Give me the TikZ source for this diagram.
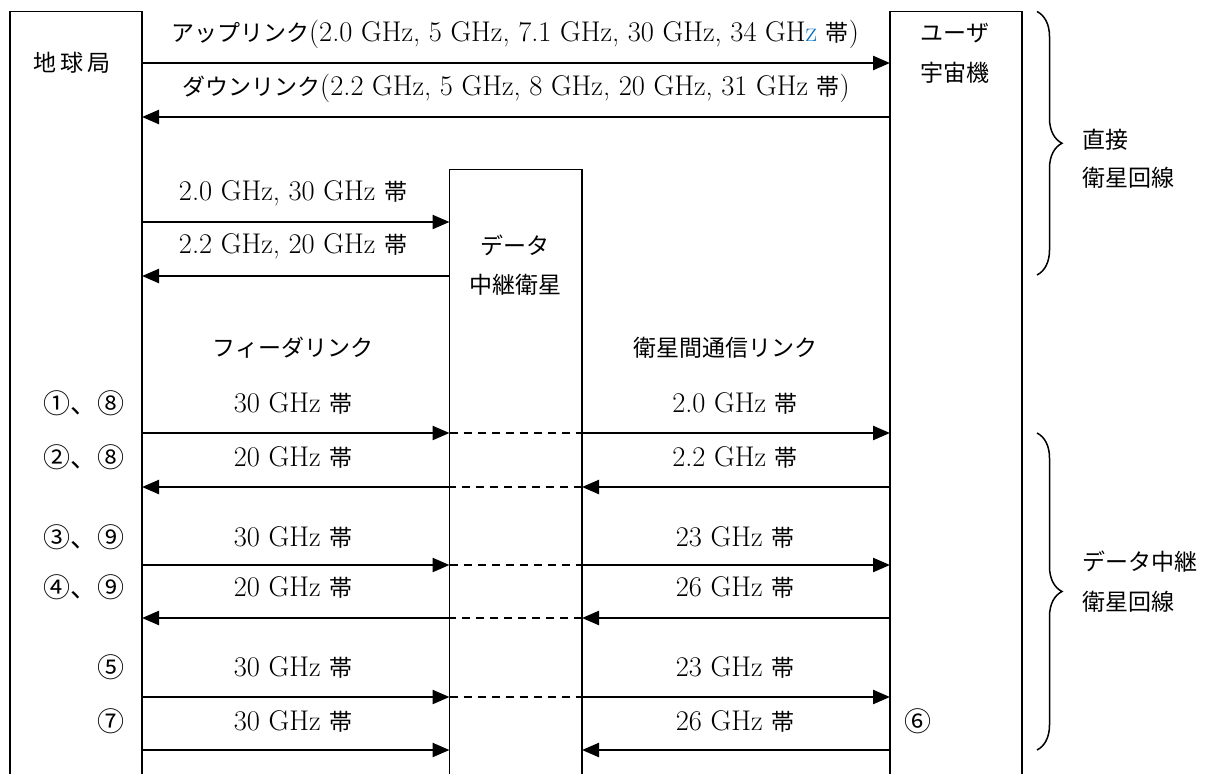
\documentclass[tikz,border=0pt]{standalone}
\usepackage{fontspec}
\newfontfamily\jpfont{Noto Sans CJK JP}
\newcommand{\jtxt}[1]{{\jpfont\fontsize{23}{27}\selectfont #1}}
\newcommand{\jcirc}[1]{{\jpfont\fontsize{27}{30}\selectfont #1}}
\usetikzlibrary{arrows.meta,decorations.pathreplacing}
\definecolor{zblue}{RGB}{0,112,192}
\tikzset{
  boxline/.style={line width=1.6pt},
  lnk/.style={line width=2.4pt,-{Triangle[length=17pt,width=14pt]}},
  dsh/.style={line width=1.6pt,dash pattern=on 8pt off 6pt},
  lbl/.style={inner sep=0pt,font=\fontsize{28.5}{32}\selectfont},
  brc/.style={line width=1.5pt,decorate,decoration={brace,amplitude=25pt}},
}
\begin{document}
\begin{tikzpicture}[x=1pt,y=-1pt]
\useasboundingbox (0,0) rectangle (1213,774);
\fill[white] (0,0) rectangle (1213,774);
% boxes (open at the bottom)
\draw[boxline] (10,774) -- (10,11.5) -- (142,11.5) -- (142,774);
\draw[boxline] (449.5,774) -- (449.5,169.5) -- (582,169.5) -- (582,774);
\draw[boxline] (890,774) -- (890,11.5) -- (1022,11.5) -- (1022,774);
% box labels
\node[lbl] (gs) at (72,63) {\jtxt{地\,球\,局}};
\node[lbl] (us1) at (955,33) {\jtxt{ユーザ}};
\node[lbl] (us2) at (955,73) {\jtxt{宇宙機}};
\node[lbl] (dr1) at (515,245) {\jtxt{データ}};
\node[lbl] (dr2) at (515,285) {\jtxt{中継衛星}};
% coordinates
\coordinate (g1) at (142,63);  \coordinate (u1) at (890,63);
\coordinate (g2) at (142,117); \coordinate (u2) at (890,117);
\coordinate (g3) at (142,222); \coordinate (r3) at (449.5,222);
\coordinate (g4) at (142,276); \coordinate (r4) at (449.5,276);
\foreach \n/\yy in {A/433,B/487,C/565,D/618,E/697,F/750}{
  \coordinate (g\n) at (142,\yy);
  \coordinate (rl\n) at (449.5,\yy);
  \coordinate (rr\n) at (582,\yy);
  \coordinate (u\n) at (890,\yy);
}
% direct links
\draw[lnk] (g1) -- (u1);
\draw[lnk] (u2) -- (g2);
\node[lbl] (t1) at (515,34) {\jtxt{アップリンク}(2.0 GHz, 5 GHz, 7.1 GHz, 30 GHz, 34 GH\textcolor{zblue}{z} \jtxt{帯})};
\node[lbl] (t2) at (516,88) {\jtxt{ダウンリンク}(2.2 GHz, 5 GHz, 8 GHz, 20 GHz, 31 GHz \jtxt{帯})};
% ground <-> relay
\draw[lnk] (g3) -- (r3);
\draw[lnk] (r4) -- (g4);
\node[lbl] (t3) at (293,193) {2.0 GHz, 30 GHz \jtxt{帯}};
\node[lbl] (t4) at (293,246) {2.2 GHz, 20 GHz \jtxt{帯}};
\node[lbl] (fl) at (293,348) {\jtxt{フィーダリンク}};
\node[lbl] (isl) at (725,348) {\jtxt{衛星間通信リンク}};
% relayed links
\foreach \n in {A,C,E}{
  \draw[lnk] (g\n) -- (rl\n);
  \draw[dsh] (rl\n) -- (rr\n);
  \draw[lnk] (rr\n) -- (u\n);
}
\foreach \n in {B,D}{
  \draw[lnk] (u\n) -- (rr\n);
  \draw[dsh] (rr\n) -- (rl\n);
  \draw[lnk] (rl\n) -- (g\n);
}
\draw[lnk] (gF) -- (rlF);
\draw[lnk] (uF) -- (rrF);
% left labels
\node[lbl,anchor=east] (n1) at (125,403) {\jcirc{①、⑧}};
\node[lbl,anchor=east] (n2) at (125,457) {\jcirc{②、⑧}};
\node[lbl,anchor=east] (n3) at (125,537) {\jcirc{③、⑨}};
\node[lbl,anchor=east] (n4) at (125,587) {\jcirc{④、⑨}};
\node[lbl,anchor=east] (n5) at (125,667) {\jcirc{⑤}};
\node[lbl,anchor=east] (n7) at (125,721) {\jcirc{⑦}};
\node[lbl] (n6) at (918,721) {\jcirc{⑥}};
% feeder link labels
\node[lbl] (fA) at (293,403) {30 GHz \jtxt{帯}};
\node[lbl] (fB) at (293,457) {20 GHz \jtxt{帯}};
\node[lbl] (fC) at (293,537) {30 GHz \jtxt{帯}};
\node[lbl] (fD) at (293,587) {20 GHz \jtxt{帯}};
\node[lbl] (fE) at (293,667) {30 GHz \jtxt{帯}};
\node[lbl] (fF) at (293,721) {30 GHz \jtxt{帯}};
% inter-satellite link labels
\node[lbl] (iA) at (735,403) {2.0 GHz \jtxt{帯}};
\node[lbl] (iB) at (735,457) {2.2 GHz \jtxt{帯}};
\node[lbl] (iC) at (735,537) {23 GHz \jtxt{帯}};
\node[lbl] (iD) at (735,587) {26 GHz \jtxt{帯}};
\node[lbl] (iE) at (735,667) {23 GHz \jtxt{帯}};
\node[lbl] (iF) at (735,721) {26 GHz \jtxt{帯}};
% braces
\coordinate (b1t) at (1037,11.5); \coordinate (b1b) at (1037,275);
\coordinate (b2t) at (1037,433); \coordinate (b2b) at (1037,750);
\draw[brc] (b1t) -- (b1b);
\draw[brc] (b2t) -- (b2b);
\node[lbl,anchor=west] (c1) at (1082,140) {\jtxt{直接}};
\node[lbl,anchor=west] (c2) at (1082,178) {\jtxt{衛星回線}};
\node[lbl,anchor=west] (c3) at (1082,562) {\jtxt{データ中継}};
\node[lbl,anchor=west] (c4) at (1082,602) {\jtxt{衛星回線}};
\end{tikzpicture}
\end{document}
